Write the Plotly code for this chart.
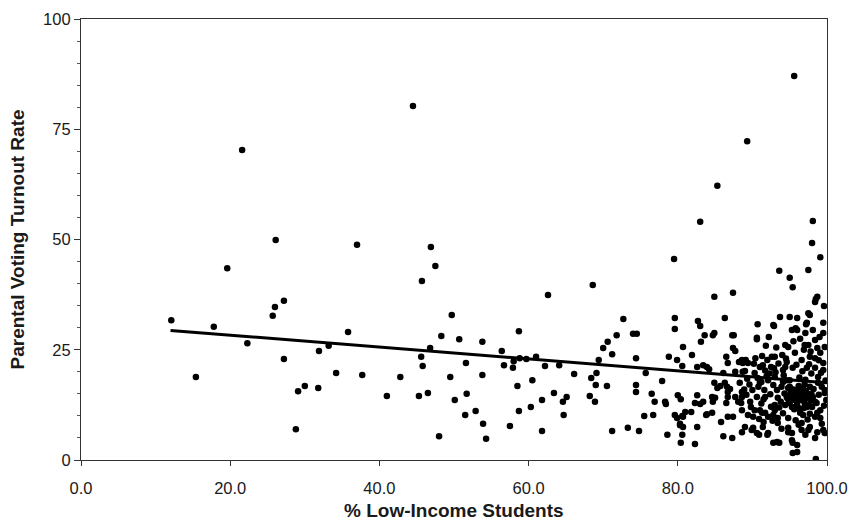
import plotly.graph_objects as go

# School-level data: share of low-income students vs. parental voting turnout
pct_low_income = [
    12.1, 15.4, 17.8, 19.6, 21.6, 22.3, 25.7, 26.0, 26.1, 27.2, 27.2, 28.8, 29.1, 30.0, 31.8, 31.9,
    33.2, 34.2, 35.8, 37.0, 37.7, 41.0, 42.8, 44.5, 45.3, 45.6, 45.7, 45.8, 46.5, 46.8, 46.9, 47.5,
    48.0, 48.3, 49.5, 49.7, 50.1, 50.7, 51.5, 51.6, 51.7, 52.9, 53.8, 53.8, 53.9, 54.3, 56.4, 56.7,
    57.5, 57.9, 58.0, 58.5, 58.7, 58.7, 58.8, 59.7, 60.3, 60.5, 61.0, 61.8, 61.8, 62.2, 62.6, 63.4,
    64.1, 64.6, 64.7, 65.1, 66.1,
    68.2, 68.4, 68.6, 68.9, 69.0, 69.1, 69.4, 70.0, 70.5, 70.6, 71.2, 71.2, 71.8, 72.7, 73.3, 74.0,
    74.5, 74.4, 74.4, 74.4, 74.8, 75.5, 75.7, 76.5, 76.7, 76.9, 77.9, 78.3, 78.4, 78.6, 78.8,
    79.5, 79.6, 79.6, 79.9, 80.0, 80.4, 79.6, 79.9, 80.6, 81.0, 80.3, 80.6, 80.4, 80.6, 80.7, 81.9,
    81.8, 82.3, 82.6, 82.7, 83.0, 83.1, 83.6, 84.7, 84.9, 82.6, 83.4, 83.9, 84.2, 82.6, 82.3, 83.0,
    83.4, 83.9, 84.6, 84.6, 84.7, 84.9, 85.3, 85.7, 85.0, 83.0, 84.9, 85.3, 86.3, 86.5, 86.7, 87.3,
    87.5, 87.4, 87.7, 86.1, 86.3, 86.6, 87.0, 86.7, 86.5, 86.7, 87.4, 86.1, 87.3, 85.8, 87.4, 87.7,
    83.8, 86.7, 80.7, 80.3, 80.7,
    88.6, 88.3, 88.5, 88.6, 88.2, 88.7, 89.1, 89.4, 89.0, 89.7, 89.8, 89.4, 90.1, 89.9, 90.6, 90.9,
    90.7, 90.6, 91.3, 91.0, 91.4, 90.7, 91.2, 91.6, 91.7, 91.0, 91.7, 92.1, 91.5, 92.0, 92.2, 92.8,
    92.6, 92.5, 93.0, 92.8, 93.3, 93.4, 93.0, 92.8, 93.4, 92.8, 93.3, 93.6, 93.7, 94.4, 94.8, 94.0,
    94.6, 94.1, 95.0, 95.3, 96.0, 96.0, 95.0, 95.4, 94.6, 95.3, 95.7, 96.1, 95.0, 94.8, 95.3, 95.4,
    96.0, 97.3, 97.1, 97.5, 98.1, 98.4, 97.5, 98.7, 98.4, 97.3, 99.5, 99.7, 99.5, 99.3, 99.7, 99.9,
    98.8, 98.1, 98.0, 98.7, 99.1, 99.7, 98.7, 98.4, 97.5, 97.1, 96.6, 98.5, 96.8, 96.4, 97.3,
    93.6, 95.0, 95.4, 97.5, 99.1, 95.6, 89.3, 98.1, 98.0, 98.5, 98.7, 99.6, 98.4,
    92.9, 97.7, 97.2, 95.8,
    90.6, 97.0, 99.5, 88.6, 92.0, 93.0, 95.7, 96.6, 97.7, 99.1, 94.4, 95.4, 87.7, 88.7, 90.3, 98.4,
    99.5, 91.0, 92.1, 88.6, 90.0, 90.6, 94.6, 94.8, 96.0, 96.8, 97.7, 98.8, 99.7, 96.4, 97.3, 98.4,
    94.4, 95.3, 96.0, 88.1, 88.6, 90.3, 91.3, 93.0, 93.4, 94.8, 97.7, 98.4, 99.1, 89.0, 90.1, 91.4,
    92.1, 95.3, 96.0, 94.8, 96.6, 97.7, 99.5, 95.4,
    95.8, 96.5, 97.0, 95.6, 96.9, 97.8, 94.9, 96.2, 97.2, 95.1, 97.9, 96.8, 94.3, 93.8, 93.9, 94.2,
    96.3, 97.1, 97.9, 96.7, 95.9, 93.5, 92.3, 91.7, 90.2, 89.6, 89.2, 90.8, 92.4, 92.5, 91.2, 94.1,
    95.8, 97.4, 99.3, 96.2, 93.9, 92.7, 90.9, 99.6, 98.9, 99.2, 98.9, 99.8, 97.6, 96.9, 95.5, 93.2,
    91.8, 96.4,
    95.2, 95.9, 96.6, 97.3, 96.1, 96.8, 95.5, 97.6, 98.2, 94.7, 95.0, 96.3, 97.0, 98.6, 94.1, 93.6,
    92.9, 91.9, 90.4, 89.3, 88.9, 91.5, 93.1, 94.5, 97.8, 99.0,
]

turnout_rate = [
    31.7, 18.8, 30.2, 43.5, 70.3, 26.5, 32.7, 34.7, 49.9, 36.1, 22.9, 7.0, 15.6, 16.8, 16.3, 24.7,
    25.9, 19.7, 29.0, 48.8, 19.3, 14.5, 18.8, 80.3, 14.5, 23.4, 40.6, 21.3, 15.2, 25.4, 48.3, 44.0,
    5.4, 28.1, 18.8, 32.9, 13.6, 27.4, 10.2, 22.0, 15.0, 11.1, 19.3, 26.8, 8.2, 4.8, 24.7, 21.5,
    7.7, 20.9, 22.4, 16.8, 29.2, 11.1, 23.1, 22.9, 12.0, 18.1, 23.4, 6.6, 13.6, 21.3, 37.4, 15.2,
    21.5, 13.2, 10.2, 14.3, 19.5,
    14.5, 18.6, 39.7, 13.2, 17.0, 19.7, 22.7, 25.4, 16.8, 26.8, 24.0, 6.6, 28.3, 32.0, 7.3, 28.6,
    28.6, 23.1, 17.0, 15.4, 6.6, 10.0, 19.7, 15.0, 10.2, 13.2, 17.9, 13.2, 12.7, 5.7, 23.4,
    45.6, 32.2, 29.7, 22.7, 14.7, 13.8, 10.2, 9.5, 10.0, 10.9, 7.9, 5.7, 3.9, 21.3, 25.6, 23.8,
    10.9, 3.6, 7.5, 31.5, 30.4, 26.8, 28.3, 28.3, 28.8, 21.1, 21.5, 21.1, 20.6, 14.7, 12.9, 12.7,
    13.2, 10.4, 10.7, 14.3, 13.2, 17.5, 16.3, 16.8, 14.1, 54.0, 37.0, 62.2, 32.2, 23.4, 22.0, 28.3,
    28.3, 25.4, 24.7, 19.7, 17.5, 16.6, 16.1, 15.4, 12.9, 9.8, 9.8, 5.4, 5.0, 8.6, 37.9, 14.3,
    10.2, 14.3, 9.8, 8.2, 7.5,
    14.3, 17.5, 12.9, 6.3, 22.2, 22.0, 22.7, 22.0, 20.2, 13.2, 12.0, 10.2, 9.8, 6.8, 6.1, 5.7,
    30.8, 27.4, 23.6, 21.1, 21.5, 18.6, 17.7, 15.9, 14.3, 11.3, 10.7, 9.8, 8.6, 5.7, 27.9, 30.6,
    23.4, 21.1, 18.8, 17.0, 15.9, 14.1, 12.5, 10.2, 8.4, 3.9, 4.1, 3.9, 32.4, 26.1, 25.6, 23.8,
    22.2, 20.4, 32.4, 29.5, 29.5, 32.2, 18.1, 15.9, 14.3, 14.3, 13.6, 14.1, 12.9, 6.3, 6.1, 3.9,
    1.8, 31.1, 28.8, 33.3, 29.5, 27.2, 26.1, 25.4, 23.1, 20.9, 31.1, 25.6, 20.4, 16.6, 15.2, 13.6,
    18.8, 14.3, 12.0, 10.7, 9.5, 6.1, 6.3, 5.0, 6.8, 5.7, 8.4, 0.2, 10.2, 10.7, 12.0,
    42.9, 41.3, 39.2, 43.1, 46.0, 87.1, 72.3, 54.2, 49.2, 36.5, 37.0, 34.9, 35.8,
    30.4, 32.9, 30.8, 29.9,
    27.7, 26.1, 28.8, 22.7, 22.7, 23.4, 24.3, 22.7, 23.4, 24.3, 21.1, 20.9, 20.0, 20.0, 19.7, 20.9,
    22.0, 17.5, 18.1, 15.4, 15.9, 14.3, 18.1, 16.3, 15.9, 15.2, 16.6, 17.5, 15.9, 13.6, 14.1, 13.2,
    12.5, 12.0, 12.5, 13.2, 11.3, 11.3, 10.7, 11.3, 9.5, 9.5, 10.5, 9.8, 11.3, 7.5, 7.3, 7.5,
    6.1, 4.5, 3.4, 7.3, 6.8, 7.5, 6.8, 1.6,
    14.8, 14.6, 13.0, 11.5, 11.8, 13.6, 13.4, 16.8, 15.6, 15.2, 15.0, 16.2, 15.1, 13.2, 16.6, 19.2,
    18.7, 18.2, 19.6, 20.1, 21.6, 21.9, 19.6, 20.3, 21.8, 17.1, 14.8, 16.6, 14.9, 12.1, 12.8, 10.6,
    9.0, 9.2, 8.2, 8.0, 7.1, 8.9, 9.3, 12.3, 14.8, 19.8, 22.6, 18.0, 21.7, 25.0, 26.9, 25.5,
    25.9, 27.5,
    13.9, 13.3, 14.2, 14.9, 15.3, 13.5, 16.0, 12.4, 16.1, 14.0, 16.6, 11.7, 17.2, 12.9, 17.7, 11.9,
    20.8, 19.0, 23.1, 18.4, 16.0, 13.8, 19.9, 23.0, 24.6, 27.9,
]

# Least-squares trend line reported with the data
trend_intercept = 31.0
trend_slope = -0.135
trend_x = [12.0, 100.0]
trend_y = [trend_intercept + trend_slope * x for x in trend_x]

x_ticks = [0, 20, 40, 60, 80, 100]
y_ticks = [0, 25, 50, 75, 100]

fig = go.Figure()

fig.add_trace(go.Scatter(
    x=pct_low_income, y=turnout_rate, mode="markers",
    marker=dict(color="black", size=6.5, line=dict(width=0)),
    showlegend=False, hoverinfo="x+y",
))

fig.add_trace(go.Scatter(
    x=trend_x, y=trend_y, mode="lines",
    line=dict(color="black", width=3),
    showlegend=False, hoverinfo="skip",
))

axis_font = dict(family="Liberation Sans, Arial, sans-serif", size=16.5, color="#1a1a1a")

fig.update_xaxes(
    range=[0, 100], tickvals=x_ticks, ticktext=[f"{v:.1f}" for v in x_ticks],
    showline=True, linecolor="#333", linewidth=1.2, mirror=True,
    ticks="outside", ticklen=5, tickcolor="#333", tickfont=axis_font,
    ticklabelstandoff=8, automargin=False,
    showgrid=False, zeroline=False,
)
fig.update_yaxes(
    range=[0, 100], tickvals=y_ticks,
    showline=True, linecolor="#333", linewidth=1.2, mirror=True,
    ticks="outside", ticklen=6, tickcolor="#333", tickfont=axis_font,
    minor=dict(dtick=5, ticks="outside", ticklen=3, tickcolor="#555"),
    automargin=False,
    showgrid=False, zeroline=False,
)

title_font = dict(family="Liberation Sans, Arial, sans-serif", size=19, color="#1a1a1a")

fig.update_layout(
    width=851, height=525,
    margin=dict(l=81, r=24, t=19, b=65, autoexpand=False),
    paper_bgcolor="white", plot_bgcolor="white",
    annotations=[
        dict(text="<b>% Low-Income Students</b>", xref="paper", yref="paper",
             x=0.5, y=0, yshift=-50, showarrow=False, font=title_font,
             xanchor="center", yanchor="middle"),
        dict(text="<b>Parental Voting Turnout Rate</b>", xref="paper", yref="paper",
             x=0, y=0.5, xshift=-64, showarrow=False, font=title_font, textangle=-90,
             xanchor="center", yanchor="middle"),
    ],
)

fig.write_html("out.html")
